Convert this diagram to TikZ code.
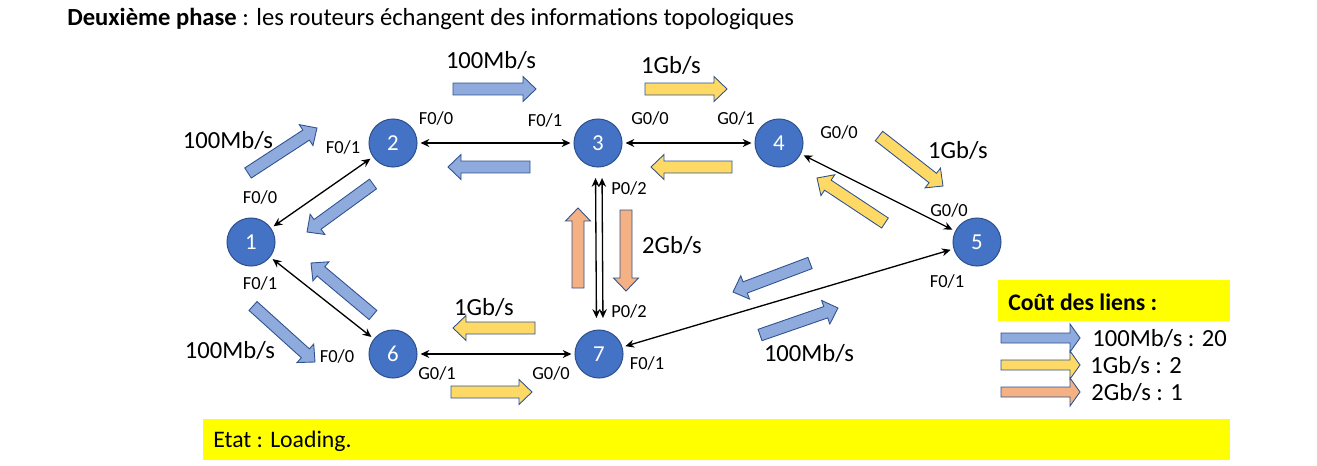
\documentclass[tikz,border=0pt]{standalone}
\usepackage{fontspec}
\setmainfont{Carlito}
\usepackage{tikz}
\usetikzlibrary{arrows.meta}
\usetikzlibrary{calc}

\definecolor{routerblue}{HTML}{4472C4}
\definecolor{edgeblue}{HTML}{2F528F}
\definecolor{fatblue}{HTML}{8FAADC}
\definecolor{fatyellow}{HTML}{FFD966}
\definecolor{fatorange}{HTML}{F4B183}
\definecolor{marker}{HTML}{FFFF00}

\tikzset{
  router/.style={circle, fill=routerblue, draw=edgeblue, line width=0.6pt,
    minimum size=0.96cm, inner sep=0pt, outer sep=0.07cm, text=white,
    font=\fontsize{13}{15}\selectfont},
  link/.style={{Stealth[length=5pt,width=4.5pt]}-{Stealth[length=5pt,width=4.5pt]}, line width=0.75pt},
  port/.style={font=\fontsize{10.5}{12}\selectfont, inner sep=0pt},
  rate/.style={font=\fontsize{14}{16}\selectfont, inner sep=0pt},
  fat/.style={draw=edgeblue, line width=0.5pt, line join=miter},
}

% sizes of the fat arrows
\newcommand{\shaftw}{0.12cm}
\newcommand{\headw}{0.25cm}
\newcommand{\headl}{0.26cm}
% fat arrow: style, tail, tip
\newcommand{\fatarrow}[3]{%
  \coordinate (fa-n) at ($(#3)!\headl!(#2)$);
  \filldraw[fat, #1] ($(#2)!\shaftw!90:(#3)$) -- ($(fa-n)!\shaftw!90:(#3)$)
    -- ($(fa-n)!\headw!90:(#3)$) -- (#3) -- ($(fa-n)!\headw!-90:(#3)$)
    -- ($(fa-n)!\shaftw!-90:(#3)$) -- ($(#2)!\shaftw!-90:(#3)$) -- cycle;
}

\begin{document}
\begin{tikzpicture}[x=0.02cm, y=-0.02cm]
        \useasboundingbox (0,0) rectangle (1317,466);

        \node[anchor=west, inner sep=0pt, font=\fontsize{14}{16}\selectfont] (titre) at (67,19)
            {\textbf{Deuxième phase} : les routeurs échangent des informations topologiques};

        % routeurs
        \node[router] (r1) at (251,242) {1};
        \node[router] (r2) at (393,143) {2};
        \node[router] (r3) at (598,143) {3};
        \node[router] (r4) at (779,143) {4};
        \node[router] (r5) at (977,242) {5};
        \node[router] (r6) at (393,354) {6};
        \node[router] (r7) at (599,354) {7};

        % liens
        \draw[link] (r1) -- (r2);
        \draw[link] (r2) -- (r3);
        \draw[link] (r3) -- (r4);
        \draw[link] (r4) -- (r5);
        \draw[link] (r1) -- (r6);
        \draw[link] (r6) -- (r7);
        \draw[link] (r7) -- (r5);
        \draw[link, shorten <=0.15cm, shorten >=0.17cm] ([xshift=-0.05cm]r3.south) -- ([xshift=-0.05cm]r7.north);
        \draw[link, shorten <=0.15cm, shorten >=0.17cm] ([xshift=0.08cm]r3.south) -- ([xshift=0.08cm]r7.north);

        % interfaces
        \node[port] (i2a) at (436,118) {F0/0};
        \node[port] (i3a) at (545,120) {F0/1};
        \node[port] (i2b) at (343,147) {F0/1};
        \node[port] (i1a) at (260,197) {F0/0};
        \node[port] (i3b) at (650,118) {G0/0};
        \node[port] (i4a) at (736,118) {G0/1};
        \node[port] (i4b) at (839,132) {G0/0};
        \node[port] (i5a) at (949,210) {G0/0};
        \node[port] (i3c) at (629,188) {P0/2};
        \node[port] (i7a) at (629,311) {P0/2};
        \node[port] (i5b) at (947,281) {F0/1};
        \node[port] (i7b) at (647,363) {F0/1};
        \node[port] (i1b) at (260,283) {F0/1};
        \node[port] (i6a) at (337,356) {F0/0};
        \node[port] (i6b) at (437,373) {G0/1};
        \node[port] (i7c) at (551,373) {G0/0};

        % debits
        \node[rate] (d23) at (491,60) {100Mb/s};
        \node[rate] (d34) at (671,65) {1Gb/s};
        \node[rate] (d12) at (228,140) {100Mb/s};
        \node[rate] (d45) at (958,150) {1Gb/s};
        \node[rate] (d37) at (672,245) {2Gb/s};
        \node[rate] (d67) at (484,307) {1Gb/s};
        \node[rate] (d16) at (230,350) {100Mb/s};
        \node[rate] (d57) at (809,353) {100Mb/s};

        % grosses fleches
        \fatarrow{fill=fatblue}{453,89}{536,89}
        \fatarrow{fill=fatblue}{248,173}{317,128}
        \fatarrow{fill=fatblue}{530,167}{448,167}
        \fatarrow{fill=fatblue}{373,184}{307,232}
        \fatarrow{fill=fatblue}{373,315}{311,263}
        \fatarrow{fill=fatblue}{253,306}{315,362}
        \fatarrow{fill=fatblue}{810,263}{733,292}
        \fatarrow{fill=fatblue}{760,335}{838,308}

        \fatarrow{fill=fatyellow}{645,89}{727,89}
        \fatarrow{fill=fatyellow}{732,167}{651,167}
        \fatarrow{fill=fatyellow}{879,136}{943,186}
        \fatarrow{fill=fatyellow}{885,223}{817,178}
        \fatarrow{fill=fatyellow}{535,328}{453,328}
        \fatarrow{fill=fatyellow}{451,392}{532,392}

        \fatarrow{fill=fatorange}{578,288}{578,208}
        \fatarrow{fill=fatorange}{626,210}{626,291}

        % legende
        \fill[marker] (998,280) rectangle (1230,321);
        \node[anchor=west, inner sep=0pt, font=\bfseries\fontsize{13.5}{16}\selectfont] (cout) at (1008,302) {Coût des liens :};
        \begin{scope}
            \renewcommand{\shaftw}{0.1cm}
            \renewcommand{\headw}{0.28cm}
            \renewcommand{\headl}{0.2cm}
            \fatarrow{fill=fatblue}{1001,338}{1080,338}
            \fatarrow{fill=fatyellow}{1001,365}{1080,365}
            \fatarrow{fill=fatorange}{1001,392}{1080,392}
        \end{scope}
        \node[rate, anchor=west] (c100) at (1092,338) {100Mb/s : 20};
        \node[rate, anchor=west] (c1g) at (1090,365) {1Gb/s : 2};
        \node[rate, anchor=west] (c2g) at (1091,392) {2Gb/s : 1};

        % etat
        \fill[marker] (203,419) rectangle (1230,460);
        \node[rate, anchor=west, font=\fontsize{13.5}{16}\selectfont] (etat) at (213,441) {Etat : Loading.};
\end{tikzpicture}
\end{document}
